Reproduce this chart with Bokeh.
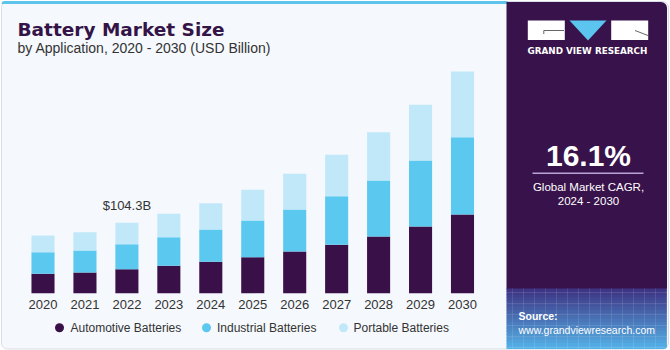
from bokeh.plotting import figure
from bokeh.models import ColumnDataSource, Range1d, BoxAnnotation
from bokeh.embed import file_html
from bokeh.resources import INLINE
from bokeh.core.properties import value

# ---------------- data ----------------
years = [2020, 2021, 2022, 2023, 2024, 2025, 2026, 2027, 2028, 2029, 2030]
year_labels = [str(y) for y in years]
automotive = [28.7, 30.7, 35.6, 40.6, 46.5, 53.3, 61.8, 71.7, 84.0, 98.8, 116.6]
industrial = [32.0, 32.6, 37.0, 42.4, 47.9, 54.4, 62.2, 72.0, 83.0, 97.8, 114.5]
portable = [24.7, 27.1, 31.7, 34.7, 39.0, 45.5, 52.9, 61.3, 71.6, 82.5, 97.3]
series_names = ["Automotive Batteries", "Industrial Batteries", "Portable Batteries"]
series_colors = ["#3a1048", "#5bc8ef", "#c0e8f9"]
highlight_year = 2022
highlight_label = "$104.3B"
cagr_value = "16.1%"
cagr_lines = ["Global Market CAGR,", "2024 - 2030"]

FONT = "Liberation Sans"
W, H = 670, 350
K = 0.35  # empirical baseline correction (fraction of font size)

# mapping of data to canvas
px_per_year = 41.95
first_bar_px = 42.5
baseline_px = 292.7
units_per_px = 104.3 / 70.4

x0 = years[0] - first_bar_px / px_per_year
x1 = years[0] + (W - first_bar_px) / px_per_year
y0 = -(H - baseline_px) * units_per_px
y1 = baseline_px * units_per_px

p = figure(width=W, height=H, x_range=Range1d(x0, x1), y_range=Range1d(y0, y1),
           output_backend="svg", toolbar_location=None,
           x_axis_location=None, y_axis_location=None, min_border=0,
           outline_line_color=None, background_fill_color="white",
           border_fill_color="white")
p.grid.visible = False
p.extra_x_ranges = {"px": Range1d(0, W)}
p.extra_y_ranges = {"px": Range1d(H, 0)}


def box(l, r, t, b, color, radius=0, level="underlay", line=None, **kw):
    bx = BoxAnnotation(left=l, right=r, top=t, bottom=b,
                       x_range_name="px", y_range_name="px",
                       fill_color=color, fill_alpha=1 if color else 0,
                       line_color=line, line_alpha=1 if line else 0,
                       level=level, border_radius=radius, **kw)
    p.add_layout(bx)
    return bx


def txt(x, y, s, size, color, bold=False, align="left", font=FONT):
    p.text(x=[x], y=[y - K * size], text=[s], x_range_name="px", y_range_name="px",
           text_font=value(font), text_font_size=f"{size}px", text_color=color,
           text_font_style="bold" if bold else "normal",
           text_align=align, text_baseline="alphabetic")


# ---------------- background panels ----------------
box(1, 668, 1, 348.5, "#f5f8fc", radius=6, line="#d9dee4")
box(1, 507, 0.5, 3.5, "#5fc4ec", radius=(5, 0, 0, 0))
box(506, 666.5, 1.5, 289, "#38124a", radius=(0, 6, 0, 0))

# gradient band bottom-right
c_top = (62, 52, 132)
c_bot = (84, 176, 230)
n = 20
band_top, band_bot = 288, 348.5
for i in range(n):
    t = i / (n - 1)
    c = tuple(int(round(c_top[k] + (c_bot[k] - c_top[k]) * t)) for k in range(3))
    col = "#%02x%02x%02x" % c
    tt = band_top + (band_bot - band_top) * i / n
    bb = band_top + (band_bot - band_top) * (i + 1) / n + 0.6
    box(506, 666.5, tt, min(bb, band_bot), col,
        radius=(0, 0, 6, 0) if i == n - 1 else 0)
box(506, 666.5, 288, 348.5, None, radius=(0, 0, 6, 0),
    hatch_pattern="+", hatch_color="white", hatch_alpha=0.18,
    hatch_scale=11, hatch_weight=0.6)

# ---------------- bars ----------------
source = ColumnDataSource(dict(year=years, a=automotive, i=industrial, pt=portable))
p.vbar_stack(["a", "i", "pt"], x="year", width=0.55, color=series_colors,
             line_color=None, source=source)

# year labels
p.text(x=years, y=[0] * len(years), text=year_labels, y_offset=15.6 - K * 13,
       text_align="center", text_baseline="alphabetic", text_font=value(FONT),
       text_font_size="13px", text_color="#333333")

# highlight annotation
hi = years.index(highlight_year)
tot = automotive[hi] + industrial[hi] + portable[hi]
p.text(x=[highlight_year], y=[tot], text=[highlight_label], y_offset=-12.3 - K * 13,
       text_align="center", text_baseline="alphabetic", text_font=value(FONT),
       text_font_size="13px", text_color="#333333")

# ---------------- titles ----------------
txt(17, 35, "Battery Market Size", 18.5, "#341447", bold=True, font="DejaVu Sans")
txt(17, 52.7, "by Application, 2020 - 2030 (USD Billion)", 14, "#333333")

# ---------------- legend ----------------
leg_marker_x = [59, 206, 343]
leg_text_x = [70, 216.5, 353]
p.scatter(x=leg_marker_x, y=[327.3] * 3, size=9, color=series_colors,
          line_color=None, x_range_name="px", y_range_name="px")
p.text(x=leg_text_x, y=[331.7 - K * 12] * 3, text=series_names, x_range_name="px",
       y_range_name="px", text_font=value(FONT), text_font_size="12px",
       text_color="#333333", text_baseline="alphabetic")

# ---------------- logo ----------------
p.quad(left=[527.3, 610.7], right=[564.3, 647.7], top=[20, 20], bottom=[39.5, 39.5],
       color="white", line_color=None, x_range_name="px", y_range_name="px")
p.patch(x=[569, 606, 587.5], y=[20, 20, 40], color="#5bc4ef", line_color=None,
        x_range_name="px", y_range_name="px")
p.segment(x0=[543.3, 543.3, 634.5], y0=[30, 30, 30], x1=[563.5, 543.3, 647.5],
          y1=[30, 33.5, 35], line_color="#666666", line_width=1,
          x_range_name="px", y_range_name="px")
txt(527, 54, "GRAND VIEW RESEARCH", 8.8, "white", bold=True, font="DejaVu Sans")

# ---------------- CAGR ----------------
txt(588, 165, cagr_value, 30, "white", bold=True, align="center")
p.segment(x0=[532], y0=[172.7], x1=[643], y1=[172.7], line_color="#b8a5d3",
          line_width=1.5, x_range_name="px", y_range_name="px")
txt(588, 190.2, cagr_lines[0], 11.5, "white", align="center")
txt(588, 205, cagr_lines[1], 11.5, "white", align="center")

# ---------------- source ----------------
txt(518, 319.3, "Source:", 10.5, "white", bold=True)
txt(518, 333.3, "www.grandviewresearch.com", 10.5, "white")

open("out.html", "w").write(file_html(p, INLINE))
